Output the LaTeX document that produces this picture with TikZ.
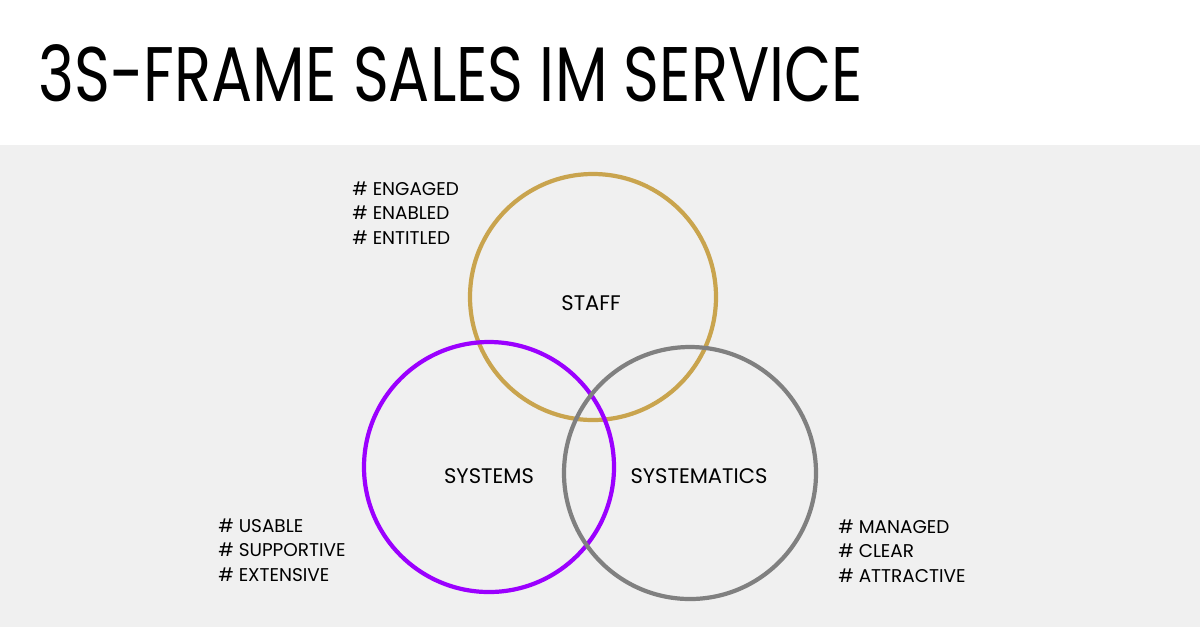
\documentclass[tikz,border=0pt]{standalone}
\usepackage{fontspec}
\setmainfont{Poppins}
\usetikzlibrary{calc}
\definecolor{bggray}{HTML}{F0F0F0}
\definecolor{staffgold}{HTML}{C9A44E}
\definecolor{syspurple}{HTML}{9B00FF}
\definecolor{smgray}{HTML}{808080}

\begin{document}
\begin{tikzpicture}[x=0.02cm, y=-0.02cm, line cap=round, line join=round,
	ring/.style={line width=2.4pt},
	tag/.style={font=\fontsize{12}{14}\selectfont, text=black},
	hashlist/.style={font=\fontsize{10.5}{14.2}\selectfont, align=left, anchor=north west, inner sep=0pt}]
		%Background
		\useasboundingbox (0,0) rectangle (1200,627);
		\fill[white] (0,0) rectangle (1200,145);
		\fill[bggray] (0,145) rectangle (1200,627);
		
		%Title
		\node[anchor=base west, inner sep=0pt, font=\fontsize{44}{50}\selectfont] (title) at (38,101) {\scalebox{0.79}[1]{3S-FRAME SALES IM SERVICE}};
		
		%Coordinates
		\coordinate (staff) at (593,297);
		\coordinate (systems) at (489,467);
		\coordinate (systematics) at (690,473);
		
		%Circles
		\draw[ring, staffgold] (staff) circle (123);
		\draw[ring, syspurple] (systems) circle (125);
		\draw[ring, smgray] (systematics) circle (126);
		
		%Nodes
		\node[tag] (staff label) at (591,303) {STAFF};
		\node[tag] (systems label) at (489,476) {SYSTEMS};
		\node[tag] (systematics label) at (699,476) {SYSTEMATICS};
		
		\node[hashlist] (staff list) at (352,181) {\# ENGAGED\\\# ENABLED\\\# ENTITLED};
		\node[hashlist] (systems list) at (218,518) {\# USABLE\\\# SUPPORTIVE\\\# EXTENSIVE};
		\node[hashlist] (systematics list) at (838,519) {\# MANAGED\\\# CLEAR\\\# ATTRACTIVE};
		
	\end{tikzpicture}
\end{document}
